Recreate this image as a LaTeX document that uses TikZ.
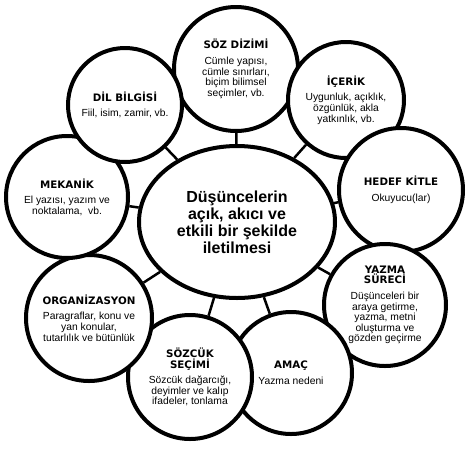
\documentclass[tikz,border=0pt]{standalone}
\usepackage{fontspec}
\setmainfont{Liberation Sans}
\newfontfamily\headfont{DejaVu Sans}
\usetikzlibrary{shapes.geometric}
\newcommand{\satHead}[1]{{\headfont\bfseries\fontsize{10.3}{11.5}\selectfont #1}}

\begin{document}
\begin{tikzpicture}[
    x=1pt, y=-1pt,
    sat/.style={circle, draw, line width=4pt, fill=white, inner sep=0pt, align=center, font=\fontsize{10.3}{10.6}\selectfont, minimum size=#1},
    sat/.default=122pt,
    core/.style={ellipse, draw, line width=4pt, fill=white, inner sep=0pt, align=center, minimum width=196pt, minimum height=152pt, font=\fontsize{16}{17}\selectfont\bfseries},
    spoke/.style={line width=2.5pt}
]
    \useasboundingbox (0,0) rectangle (472,451);

    \node[core] (core) at (237,222) {Düşüncelerin\\açık, akıcı ve\\etkili bir şekilde\\iletilmesi};

    % satellites, clockwise from the top
    \node[sat=124pt] (soz) at (236,69) {\satHead{SÖZ DİZİMİ}\\[5pt]Cümle yapısı,\\cümle sınırları,\\biçim bilimsel\\seçimler, vb.};
    \node[sat=116pt] (icerik) at (346,100) {\satHead{İÇERİK}\\[5pt]Uygunluk, açıklık,\\özgünlük, akla\\yatkınlık, vb.};
    \node[sat=124pt] (hedef) at (401,190) {\satHead{HEDEF KİTLE}\\[5pt]Okuyucu(lar)};
    \node[sat] (yazma) at (385,305) {\satHead{YAZMA}\\\satHead{SÜRECİ}\\[5pt]Düşünceleri bir\\araya getirme,\\yazma, metni\\oluşturma ve\\gözden geçirme};
    \node[sat] (amac) at (291,373) {\satHead{AMAÇ}\\[5pt]Yazma nedeni};
    \node[sat=124pt] (sozcuk) at (190,377) {\satHead{SÖZCÜK}\\\satHead{SEÇİMİ}\\[5pt]Sözcük dağarcığı,\\deyimler ve kalıp\\ifadeler, tonlama};
    \node[sat=126pt] (org) at (89,318) {\satHead{ORGANİZASYON}\\[5pt]Paragraflar, konu ve\\yan konular,\\tutarlılık ve bütünlük};
    \node[sat] (mekanik) at (67,197) {\satHead{MEKANİK}\\[5pt]El yazısı, yazım ve\\noktalama,\ \ vb.};
    \node[sat=114pt] (dil) at (125,105) {\satHead{DİL BİLGİSİ}\\[5pt]Fiil, isim, zamir, vb.};

    \foreach \n in {soz,icerik,hedef,yazma,amac,sozcuk,org,mekanik,dil}
        \draw[spoke] (core) -- (\n);
\end{tikzpicture}
\end{document}
